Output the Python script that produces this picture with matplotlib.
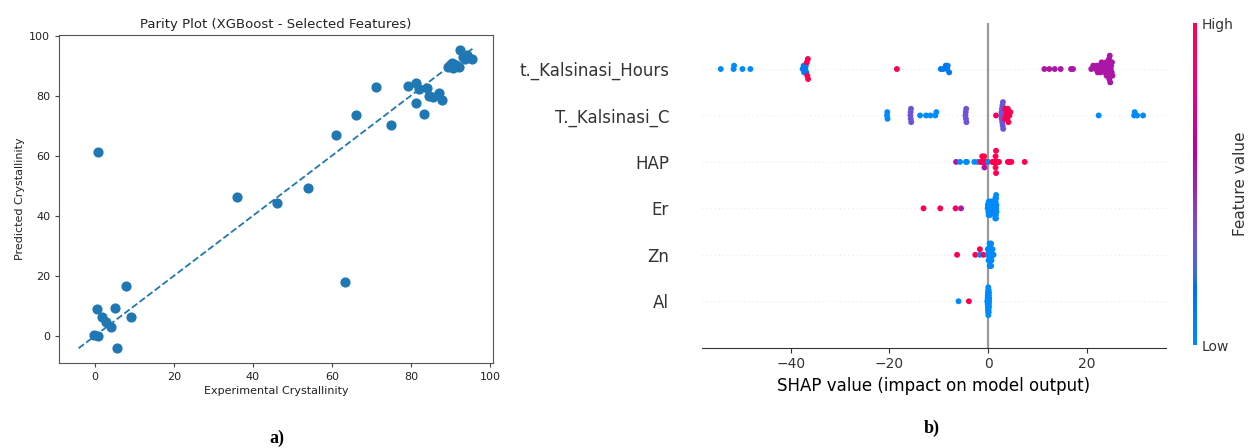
import numpy as np
import matplotlib
matplotlib.use("Agg")
import matplotlib.pyplot as plt
from matplotlib.colors import LinearSegmentedColormap
from matplotlib import cm

# ---- a) parity plot ----
experimental = [0.8, 0.5, 1.9, 2.8, 4.0, -0.3, 0.8, 5.1, 8.0, 9.2, 5.6, 36.1, 46.0, 54.0,
                61.1, 66.2, 63.3, 71.1, 75.1, 79.3, 81.3, 81.3, 82.1, 83.3, 84.0, 84.6,
                85.5, 87.2, 88.0, 89.3, 90.0, 90.3, 90.7, 91.0, 91.5, 92.2, 92.4, 93.7,
                94.3, 95.6, 93.2]
predicted = [61.3, 8.9, 6.4, 4.6, 3.1, 0.2, 0.0, 9.3, 16.6, 6.3, -4.1, 46.3, 44.2, 49.2,
             66.9, 73.7, 17.9, 82.9, 70.1, 83.2, 84.1, 77.5, 82.1, 73.8, 82.7, 79.9,
             79.7, 81.0, 78.6, 89.7, 90.3, 91.0, 89.2, 89.5, 90.2, 89.7, 95.2, 92.1,
             93.6, 92.1, 92.8]

# ---- b) shap summary (rows bottom to top) ----
feature_names = ["Al", "Zn", "Er", "HAP", "T._Kalsinasi_C", "t._Kalsinasi_Hours"]

# colour codes: b=low, l=low-ish, p=purple, m=magenta, r=high
level = {"b": 0.0, "l": 0.12, "p": 0.33, "m": 0.55, "r": 1.0}

hours_shap = [-54.2, -51.6, -51.5, -49.8, -48.2,
              -37.6, -37.4, -37.3, -37.05, -36.95, -36.85, -36.75, -36.65, -36.55, -36.5,
              -18.5,
              -9.6, -9.1, -8.6, -8.3, -8.2, -7.9,
              11.4, 12.4, 13.5, 14.7, 16.8, 17.2,
              20.9, 21.3, 21.8, 22.0, 22.2, 22.5, 22.6, 22.8, 23.0, 23.3, 23.5, 23.7, 23.9,
              24.0, 24.05, 24.15, 24.2, 24.3, 24.4, 24.5, 24.55, 24.65, 24.75, 24.85,
              24.95, 25.05, 25.1, 25.2]
hours_code = "bbbbb llllllrrrr r llllll mmmmmm mmmmmmmmmmmmmmmmmmmmmmmmmmmm"

tc_shap = [-20.5, -20.45, -20.4,
           -15.75, -15.72, -15.68, -15.64, -15.6,
           -13.8, -12.6, -11.7, -10.7, -10.5,
           -4.6, -4.55, -4.5, -4.45, -4.4,
           1.6,
           2.65, 2.7, 2.75, 2.8, 2.85, 2.9, 2.95, 3.0, 3.05,
           3.2, 3.3, 3.4, 3.5,
           3.7, 3.8, 3.9, 4.0, 4.1, 4.3, 4.5,
           22.4, 29.6, 29.7, 30.2, 31.4]
tc_code = "bbb ppppp bbbbb ppppp r ppppppppp pprr rrrrrrr bbbbb"

hap_shap = [-6.5, -5.7, -4.5, -4.3, -2.8, -2.1,
            -1.5, -1.35, -1.2, -1.2, -1.05, -0.95, -0.8, -0.8, -0.75, -0.65, -0.5, -0.35,
            0.05,
            0.9, 1.0, 1.1, 1.3, 1.4, 1.5, 1.5, 1.5, 1.6, 1.6, 1.8, 2.0, 2.2,
            4.0, 4.3, 4.7, 7.4]
hap_code = "m bbbbb rrrrrrrrmrrr b rrrrrrrrrrrrr rrrr"

er_shap = [-13.1, -9.7, -6.6, -5.5,
           -0.1, -0.05, 0.0, 0.0, 0.05, 0.1, 0.1, 0.15, 0.2, 0.2, 0.25, 0.3, 0.3, 0.35, 0.4,
           0.4, 0.45, 0.5, 0.5, 0.55, 0.6, 0.6, 0.65, 0.7, 0.75, 0.8, 0.85, 0.9, 1.0, 1.1,
           1.2, 1.25, 1.3, 1.3, 1.35, 1.35, 1.4, 1.4, 1.42, 1.45, 1.45, 1.48, 1.5, 1.5,
           1.52, 1.55, 1.6, 1.6, 1.62, 1.65, 1.68, 1.7]
er_code = "rrrm bbbbbbbbbbbbbbbbbbbbbbbbbbbbbb bbmbbbbbbbbbbbbbbbbbbb"

zn_shap = [-6.3, -2.6, -1.7, -1.68, -0.95,
           -0.1, -0.05, 0.0, 0.0, 0.05, 0.1, 0.1, 0.15, 0.2, 0.2, 0.25, 0.28, 0.3, 0.3,
           0.32, 0.35, 0.38, 0.4, 0.4, 0.42, 0.45, 0.45, 0.48, 0.5, 0.5, 0.52, 0.55, 0.55,
           0.58, 0.6, 0.6, 0.62, 0.65, 0.68, 0.7, 0.75, 0.8, 0.85, 0.9, 1.0, 1.1]
zn_code = "rrbrr bbbbbbbbbbbbbbbbbbbbbbbbbbbbbbbbbbbbbbbbb"

al_shap = [-6.0, -3.9,
           -0.15, -0.12, -0.1, -0.1, -0.08, -0.06, -0.05, -0.05, -0.04, -0.03, -0.02, -0.02,
           -0.01, 0.0, 0.0, 0.0, 0.01, 0.01, 0.02, 0.02, 0.03, 0.03, 0.04, 0.05, 0.05, 0.06,
           0.07, 0.08, 0.08, 0.09, 0.1, 0.1, 0.11, 0.12, 0.13, 0.14, 0.15, 0.16, 0.18, 0.2]
al_code = "br bbbbbbbbbbbbbbbbbbbbbbbbbbbbbbbbbbbbbbbb"

rows = [(al_shap, al_code), (zn_shap, zn_code), (er_shap, er_code),
        (hap_shap, hap_code), (tc_shap, tc_code), (hours_shap, hours_code)]


def lch_to_rgb(l, c, h):
    a, b = c * np.cos(h), c * np.sin(h)
    fy = (l + 16) / 116
    fx = fy + a / 500
    fz = fy - b / 200

    def finv(t):
        return t ** 3 if t > 6 / 29 else (t - 16 / 116) / 7.787
    xyz = np.array([finv(fx) * 0.95047, finv(fy), finv(fz) * 1.08883])
    m = np.array([[3.2404542, -1.5371385, -0.4985314],
                  [-0.9692660, 1.8760108, 0.0415560],
                  [0.0556434, -0.2040259, 1.0572252]])
    rgb = m @ xyz
    rgb = np.where(rgb > 0.0031308, 1.055 * np.abs(rgb) ** (1 / 2.4) - 0.055, 12.92 * rgb)
    return np.clip(rgb, 0, 1)


def shap_red_blue():
    n = 100
    l_vals = list(np.linspace(54., 40., n // 2)) + list(np.linspace(40., 54., n // 2))
    c_vals = np.linspace(70., 90., n)
    h_vals = np.linspace(4.6588, 0.35470565 + 2 * np.pi, n)
    cols = [lch_to_rgb(l, c, h) for l, c, h in zip(l_vals, c_vals, h_vals)]
    return LinearSegmentedColormap.from_list("red_blue", list(zip(np.linspace(0, 1, n), cols)))


def beeswarm(values, nbins=100, row_height=0.4):
    values = np.asarray(values, dtype=float)
    quant = np.round(nbins * (values - values.min()) / (values.max() - values.min() + 1e-8))
    ys = np.zeros(len(values))
    layer = 0
    last_bin = -1
    for i in np.argsort(quant, kind="stable"):
        if quant[i] != last_bin:
            layer = 0
        ys[i] = np.ceil(layer / 2) * ((layer % 2) * 2 - 1)
        layer += 1
        last_bin = quant[i]
    ys *= 0.9 * (row_height / np.max(ys + 1))
    return ys


fig = plt.figure(figsize=(12.5, 4.48), dpi=100)

# parity plot
ax1 = fig.add_axes([0.0474, 0.1904, 0.3467, 0.7315])
ax1.scatter(experimental, predicted, s=40, color="#1f77b4", zorder=3)
lo = min(min(experimental), min(predicted))
hi = max(max(experimental), max(predicted))
ax1.plot([lo, hi], [lo, hi], "--", color="#1f77b4", lw=1.3)
ax1.set_xlim(-9.0, 100.7)
ax1.set_ylim(-8.9, 100.2)
ax1.set_xticks([0, 20, 40, 60, 80, 100])
ax1.set_yticks([0, 20, 40, 60, 80, 100])
ax1.tick_params(labelsize=8, color="#444444", labelcolor="#222222", length=3)
for sp in ax1.spines.values():
    sp.set_color("#555555")
    sp.set_linewidth(0.8)
ax1.set_title("Parity Plot (XGBoost - Selected Features)", fontsize=9.5, color="#222222", pad=5)
ax1.set_xlabel("Experimental Crystallinity", fontsize=8, color="#222222", labelpad=3)
ax1.set_ylabel("Predicted Crystallinity", fontsize=8, color="#222222", labelpad=3)

# shap summary
cmap = shap_red_blue()
ax2 = fig.add_axes([0.5614, 0.2239, 0.3712, 0.7257])
ax2.axvline(0, color="#999999", lw=1.6, zorder=-1)
for pos, (vals, code) in enumerate(rows):
    code = code.replace(" ", "")
    if len(code) != len(vals):
        raise ValueError(f"row {feature_names[pos]}: {len(code)} colours, {len(vals)} values")
    ax2.axhline(pos, color="#cccccc", lw=0.5, dashes=(1, 5), zorder=-1)
    ys = beeswarm(vals)
    cvals = [level[ch] for ch in code]
    ax2.scatter(vals, pos + ys, c=cvals, cmap=cmap, vmin=0, vmax=1, s=18,
                linewidth=0, zorder=3)
ax2.set_xlim(-58.05, 36.0)
ax2.set_ylim(-1, len(feature_names))
ax2.set_yticks(range(len(feature_names)))
ax2.set_yticklabels(feature_names, fontsize=12)
ax2.yaxis.set_ticks_position("none")
ax2.tick_params("y", length=20, width=0.5, labelcolor="#333333")
ax2.tick_params("x", labelsize=10, color="#333333", labelcolor="#333333")
ax2.set_xticks([-40, -20, 0, 20])
for side in ["left", "right", "top"]:
    ax2.spines[side].set_visible(False)
ax2.spines["bottom"].set_color("#333333")
ax2.set_xlabel("SHAP value (impact on model output)", fontsize=12)

cax = fig.add_axes([1193 / 1250, 1 - 345 / 448, 3.5 / 1250, 322 / 448])
sm = cm.ScalarMappable(cmap=cmap)
sm.set_array([0, 1])
cb = fig.colorbar(sm, cax=cax, ticks=[0, 1])
cb.set_ticklabels(["Low", "High"])
cb.ax.tick_params(labelsize=10, length=0, labelcolor="#333333")
cb.set_label("Feature value", size=11, labelpad=0, color="#333333")
cb.outline.set_visible(False)

fig.text(277 / 1250, 1 - 438 / 448, "a)", family="Liberation Serif", weight="bold",
         fontsize=13, ha="center", va="center")
fig.text(932 / 1250, 1 - 428 / 448, "b)", family="Liberation Serif", weight="bold",
         fontsize=13, ha="center", va="center")

fig.savefig("out.png", dpi=100)
